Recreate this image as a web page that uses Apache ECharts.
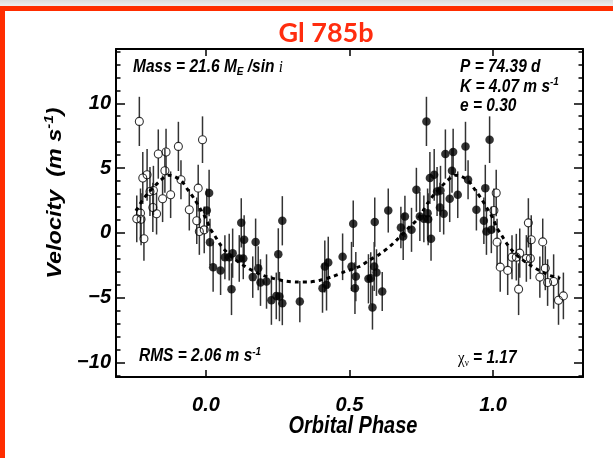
<!DOCTYPE html>
<html>
<head>
<meta charset="utf-8">
<script src="https://cdn.jsdelivr.net/npm/echarts@6/dist/echarts.min.js"></script>
<style>
html, body { margin: 0; padding: 0; background: #ffffff; }
#chart { width: 613px; height: 458px; }
</style>
</head>
<body>
<div id="chart"></div>
<script>
// Gl 785b: radial velocities folded on the 74.39 d orbit

// Observations (orbital phase, velocity in m/s, 1-sigma uncertainty)
const obsPhase = [
  0.003, 0.011, 0.014, 0.025, 0.051, 0.066, 0.081, 0.093, 0.089, 0.116,
  0.130, 0.123, 0.133, 0.173, 0.163, 0.182, 0.190, 0.211, 0.228, 0.245,
  0.256, 0.266, 0.252, 0.266, 0.327, 0.406, 0.414, 0.426, 0.420, 0.476,
  0.507, 0.513, 0.522, 0.519, 0.566, 0.574, 0.586, 0.594, 0.580, 0.614,
  0.588, 0.635, 0.679, 0.687, 0.693, 0.716, 0.733, 0.745, 0.759, 0.772,
  0.774, 0.768, 0.780, 0.795, 0.784, 0.805, 0.817, 0.815, 0.828, 0.834,
  0.861, 0.857, 0.849, 0.877, 0.904, 0.913, 0.942, 0.968, 0.977, 0.994,
  0.973, 0.988
];
const obsVelocity = [
  1.72, 3.07, -0.72, -2.65, -2.90, -1.88, -1.88, -1.57, -4.35, -1.98,
  -1.98, 0.77, -0.54, -0.70, -3.42, -2.73, -3.84, -3.76, -5.20, -4.87,
  -4.92, -5.43, -1.65, 0.93, -5.31, -4.27, -2.60, -2.30, -4.00, -1.85,
  -2.60, 0.70, -3.38, -4.27, -3.55, -3.50, -2.60, -3.07, -5.77, -4.53,
  0.83, 1.72, 0.41, -0.29, 1.26, 0.23, 3.32, 1.26, 1.08, 1.52,
  1.05, 8.60, 4.23, 4.48, -0.46, 3.19, 3.27, 1.96, 1.47, 6.08,
  6.24, 4.79, 2.63, 2.94, 6.67, 4.10, 1.78, 0.93, 0.10, 0.23,
  3.45, 7.19
];
const obsSigma = [
  1.7, 1.8, 1.8, 1.9, 1.9, 1.7, 1.8, 1.9, 2.0, 1.8,
  1.6, 1.9, 1.9, 1.8, 1.6, 1.7, 1.8, 2.1, 1.9, 1.8,
  1.9, 1.7, 2.0, 1.9, 1.6, 1.9, 2.0, 2.0, 2.0, 1.8,
  1.9, 1.8, 1.9, 2.0, 1.9, 2.0, 1.9, 1.8, 1.7, 1.5,
  1.9, 1.7, 1.6, 1.8, 1.6, 1.7, 1.7, 1.9, 1.8, 1.9,
  2.0, 1.9, 2.0, 2.0, 1.7, 1.9, 1.9, 1.9, 1.6, 1.9,
  1.8, 1.7, 1.8, 1.8, 1.9, 1.5, 1.6, 1.8, 1.8, 1.8,
  1.8, 1.8
];

// Keplerian fit, sampled over one orbit
const fitPhase = [
  0.000, 0.014, 0.031, 0.049, 0.066, 0.095, 0.130, 0.165, 0.200, 0.234,
  0.275, 0.316, 0.356, 0.397, 0.443, 0.484, 0.535, 0.570, 0.605, 0.640,
  0.665, 0.705, 0.735, 0.756, 0.776, 0.796, 0.819, 0.842, 0.869, 0.890,
  0.915, 0.936, 0.960, 0.983
];
const fitVelocity = [
  1.10, 0.36, -0.23, -0.87, -1.35, -1.95, -2.50, -2.95, -3.30, -3.52,
  -3.72, -3.80, -3.80, -3.66, -3.36, -3.00, -2.60, -2.10, -1.65, -1.06,
  -0.54, 0.36, 1.00, 1.70, 2.42, 3.00, 3.55, 4.05, 4.45, 4.35,
  4.00, 3.35, 2.60, 1.75
];

// Axis ticks and labels
const xTickValues = [0, 0.5, 1.0];
const xTickLabels = ['0.0', '0.5', '1.0'];
const yTickValues = [-10, -5, 0, 5, 10];
const yTickLabels = ['\u221210', '\u22125', '0', '5', '10'];
const yMinorValues = [-11, -9, -8, -7, -6, -4, -3, -2, -1, 1, 2, 3, 4, 6, 7, 8, 9, 11, 12, 13, 14];

// Points are repeated a quarter orbit beyond each end of the phase range
const FOLD_LO = -0.25, FOLD_HI = 1.25;
const X_MIN = -0.3133, X_MAX = 1.3133, Y_MIN = -11.13, Y_MAX = 14.19;

const filled = [], hollow = [], bars = [];
for (let i = 0; i < obsPhase.length; i++) {
  const p = obsPhase[i], v = obsVelocity[i], s = obsSigma[i];
  filled.push([p, v]);
  bars.push([p, v, s, 0]);
  const copies = [];
  if (p - 1 >= FOLD_LO) copies.push(p - 1);
  if (p + 1 <= FOLD_HI) copies.push(p + 1);
  copies.forEach(q => { hollow.push([q, v]); bars.push([q, v, s, 1]); });
}

const fitLine = [];
for (let i = 0; i < fitPhase.length; i++) {
  const p = fitPhase[i], v = fitVelocity[i];
  fitLine.push([p, v]);
  if (p - 1 >= FOLD_LO - 0.01) fitLine.push([p - 1, v]);
  if (p + 1 <= FOLD_HI + 0.01) fitLine.push([p + 1, v]);
}
fitLine.push([1.0, fitVelocity[0]]);
fitLine.sort((a, b) => a[0] - b[0]);

const SANS = "'Liberation Sans', Arial, Helvetica, sans-serif";
const SERIF = "'Liberation Serif','DejaVu Serif',serif";
const MARK_R = 4;
const STRETCH = 1.17;   // text in this figure is drawn taller than wide

const chart = echarts.init(document.getElementById('chart'), null, { renderer: 'canvas' });

const frameLine = { show: true, onZero: false, lineStyle: { color: '#000', width: 2 } };
const tickLabelFont = {
  color: '#000', fontFamily: SANS, fontWeight: 'bold', fontStyle: 'italic', fontSize: 20
};

function xAxisDef(pos, withLabels) {
  return {
    type: 'value', position: pos, min: X_MIN, max: X_MAX,
    axisLine: frameLine,
    splitLine: { show: false },
    axisTick: { show: true, inside: true, length: 7, customValues: xTickValues,
                lineStyle: { color: '#000', width: 1.5 } },
    axisLabel: withLabels ? Object.assign({
      show: true, margin: 18, customValues: xTickValues,
      formatter: v => xTickLabels[xTickValues.findIndex(t => Math.abs(t - v) < 1e-6)] || ''
    }, tickLabelFont) : { show: false }
  };
}

function yAxisDef(pos, minor, withLabels) {
  return {
    type: 'value', position: pos, min: Y_MIN, max: Y_MAX,
    axisLine: minor ? { show: false, onZero: false } : frameLine,
    splitLine: { show: false },
    axisTick: { show: true, inside: true, length: minor ? 4.5 : 9,
                customValues: minor ? yMinorValues : yTickValues,
                lineStyle: { color: '#000', width: 1.5 } },
    axisLabel: withLabels ? Object.assign({
      show: true, margin: 5, customValues: yTickValues,
      formatter: v => yTickLabels[yTickValues.findIndex(t => Math.abs(t - v) < 1e-6)] || ''
    }, tickLabelFont) : { show: false }
  };
}

const richBase = {
  a: { fontFamily: SANS, fontWeight: 'bold', fontStyle: 'italic', fontSize: 15.5, lineHeight: 18, fill: '#000' },
  sup: { fontFamily: SANS, fontWeight: 'bold', fontStyle: 'italic', fontSize: 10, lineHeight: 10, verticalAlign: 'top', fill: '#000' },
  sub: { fontFamily: SANS, fontWeight: 'bold', fontStyle: 'italic', fontSize: 10, lineHeight: 8, verticalAlign: 'bottom', fill: '#000' },
  i: { fontFamily: SERIF, fontStyle: 'italic', fontWeight: 'normal', fontSize: 15, lineHeight: 18, fill: '#000' },
  chi: { fontFamily: SERIF, fontStyle: 'normal', fontWeight: 'normal', fontSize: 15, lineHeight: 18, fill: '#000' },
  nu: { fontFamily: SERIF, fontStyle: 'normal', fontWeight: 'normal', fontSize: 9, lineHeight: 7, verticalAlign: 'bottom', fill: '#000' }
};

function label(x, y, text) {
  return {
    type: 'text', x: x, y: y, z: 20, scaleY: STRETCH,
    style: { text: text, rich: richBase, verticalAlign: 'middle', align: 'left' }
  };
}

const option = {
  animation: false,
  backgroundColor: '#ffffff',
  grid: { left: 116, top: 49, width: 467, height: 328, containLabel: false },
  xAxis: [xAxisDef('bottom', true), xAxisDef('top', false)],
  yAxis: [
    yAxisDef('left', false, true),
    yAxisDef('left', true, false),
    yAxisDef('right', false, false),
    yAxisDef('right', true, false)
  ],
  series: [
    {
      type: 'custom', name: 'errors', xAxisIndex: 0, yAxisIndex: 0, z: 2,
      data: bars,
      renderItem: function (params, api) {
        const x = api.value(0), y = api.value(1), e = api.value(2), open = api.value(3);
        const top = api.coord([x, y + e]);
        const bot = api.coord([x, y - e]);
        const c = api.coord([x, y]);
        const style = { stroke: '#333', lineWidth: 1.5 };
        if (open) {
          return { type: 'group', children: [
            { type: 'line', shape: { x1: top[0], y1: top[1], x2: c[0], y2: c[1] - MARK_R }, style: style },
            { type: 'line', shape: { x1: c[0], y1: c[1] + MARK_R, x2: bot[0], y2: bot[1] }, style: style }
          ] };
        }
        return { type: 'line', shape: { x1: top[0], y1: top[1], x2: bot[0], y2: bot[1] }, style: style };
      }
    },
    {
      type: 'line', name: 'fit', data: fitLine, z: 3,
      showSymbol: false, symbol: 'none', smooth: 0.3,
      lineStyle: { color: '#000', width: 3, type: [4, 4] }
    },
    {
      type: 'scatter', name: 'repeated', data: hollow, z: 4,
      symbol: 'circle', symbolSize: MARK_R * 2,
      itemStyle: { color: 'rgba(255,255,255,0)', borderColor: '#000', borderWidth: 1.1 }
    },
    {
      type: 'scatter', name: 'observed', data: filled, z: 5,
      symbol: 'circle', symbolSize: MARK_R * 2 + 0.5,
      itemStyle: { color: '#000' }
    }
  ],
  graphic: [
    // slide header band and accent bars
    { type: 'rect', shape: { x: 0, y: 0, width: 613, height: 6 },
      style: { fill: new echarts.graphic.LinearGradient(0, 0, 0, 1, [
        { offset: 0, color: '#dcdcdc' }, { offset: 1, color: '#efefef' }]) }, z: 1 },
    { type: 'rect', shape: { x: 0, y: 6, width: 613, height: 5 }, style: { fill: '#ff2d00' }, z: 1 },
    { type: 'rect', shape: { x: 0, y: 6, width: 5, height: 452 }, style: { fill: '#ff2d00' }, z: 1 },
    // title
    { type: 'text', x: 326, y: 33, z: 20,
      style: { text: 'Gl 785b', fill: '#ff2d0f', fontFamily: "Lato, 'Open Sans', sans-serif",
               fontWeight: 'bold', fontSize: 27, align: 'center', verticalAlign: 'middle' } },
    // axis titles
    { type: 'text', x: 353, y: 427, z: 20, scaleY: STRETCH,
      style: { text: 'Orbital Phase', fill: '#000', fontFamily: SANS, fontWeight: 'bold',
               fontStyle: 'italic', fontSize: 20, align: 'center', verticalAlign: 'middle' } },
    { type: 'text', x: 55, y: 193, rotation: Math.PI / 2, scaleX: STRETCH, z: 20,
      style: {
        text: '{a|Velocity  (m s}{sup|-1}{a|)}', align: 'center', verticalAlign: 'middle',
        rich: {
          a: { fontFamily: SANS, fontWeight: 'bold', fontStyle: 'italic', fontSize: 20, lineHeight: 24, fill: '#000' },
          sup: { fontFamily: SANS, fontWeight: 'bold', fontStyle: 'italic', fontSize: 13, lineHeight: 12, verticalAlign: 'top', fill: '#000' }
        }
      } },
    // orbit annotations
    label(133, 67, '{a|Mass = 21.6 M}{sub|E}{a| /sin }{i|i}'),
    label(460, 67, '{a|P = 74.39 d}'),
    label(460, 86.5, '{a|K = 4.07 m s}{sup|-1}'),
    label(460, 106, '{a|e = 0.30}'),
    label(139, 356, '{a|RMS = 2.06 m s}{sup|-1}'),
    label(458, 358, '{chi|\u03c7}{nu|\u03bd}{a| = 1.17}')
  ]
};

chart.setOption(option);
</script>
</body>
</html>
